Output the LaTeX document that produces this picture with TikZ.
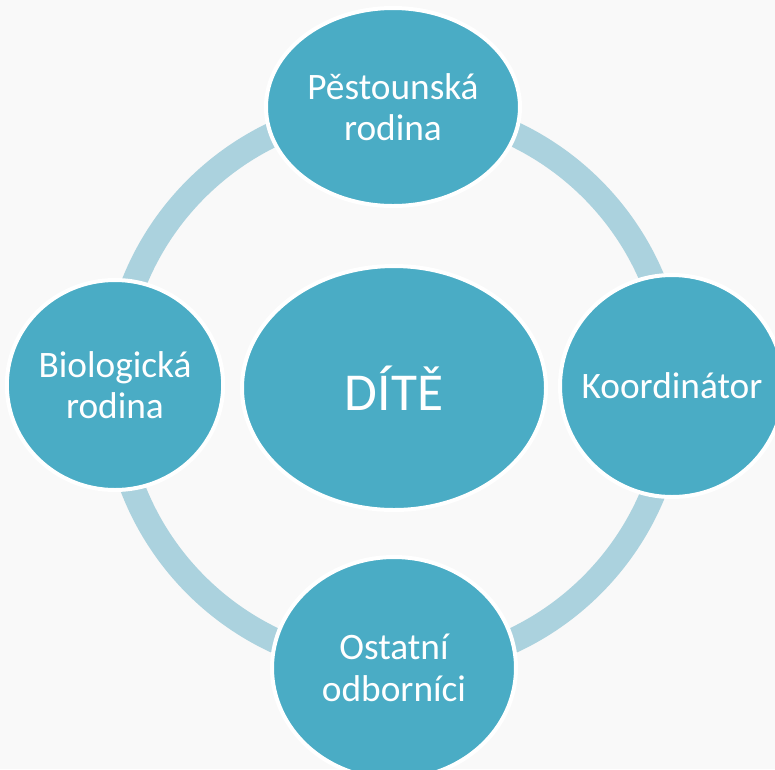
\documentclass[tikz,border=0pt]{standalone}
\usepackage{fontspec}
\setmainfont{Carlito}
\usetikzlibrary{shapes.geometric}
\definecolor{bgc}{HTML}{F9F9F9}
\definecolor{nodec}{HTML}{4AACC5}
\definecolor{ringc}{HTML}{ABD2DE}
\tikzset{
  blob/.style={ellipse, draw=white, line width=3pt, fill=nodec, inner sep=0pt,
    text=white, align=center, font=\fontsize{28}{31}\selectfont},
}
\begin{document}
\begin{tikzpicture}[x=0.75pt, y=-0.75pt]
\useasboundingbox (0,0) rectangle (775,769);
\fill[bgc] (0,0) rectangle (775,769);
\begin{scope}
\clip (0,0) rectangle (775,769);
\coordinate (c) at (394,387);
\draw[ringc, line width=18.75pt] (c) circle [radius=280];
\node[blob, minimum width=254*0.75pt, minimum height=198*0.75pt] (top) at (393,107) {Pěstounská\\rodina};
\node[blob, minimum width=224*0.75pt, minimum height=222*0.75pt] (right) at (672,386) {\makebox[0pt]{Koordinátor}};
\node[blob, minimum width=210*0.75pt, minimum height=210*0.75pt] (left) at (115,385) {Biologická\\rodina};
\node[blob, minimum width=244*0.75pt, minimum height=222*0.75pt] (bottom) at (394,668) {Ostatní\\odborníci};
\node[blob, minimum width=304*0.75pt, minimum height=244*0.75pt, font=\fontsize{40}{48}\selectfont] (child) at (394,388) {DÍTĚ};
\end{scope}
\end{tikzpicture}
\end{document}
